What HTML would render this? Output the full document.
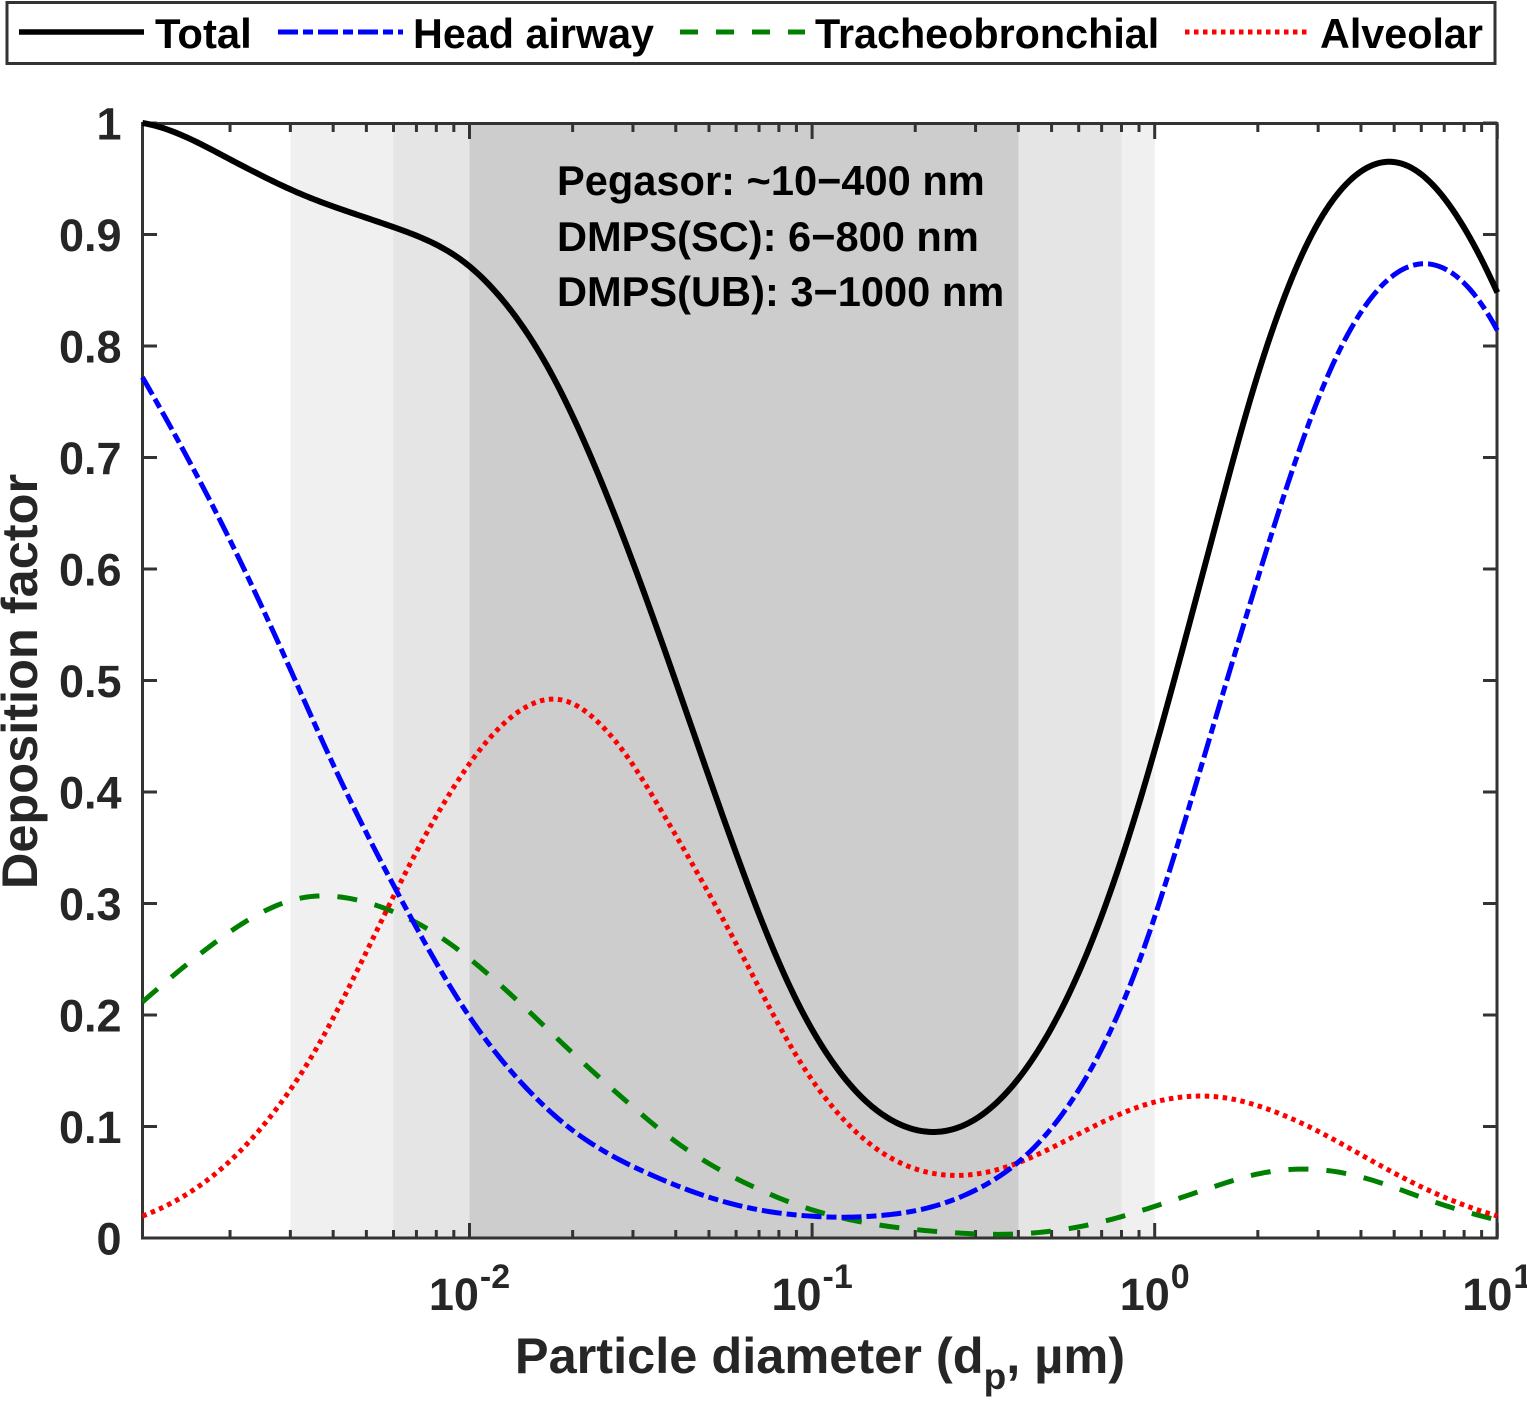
<!DOCTYPE html>
<html>
<head>
<meta charset="utf-8">
<title>Deposition factor chart</title>
<style>
html,body{margin:0;padding:0;background:#fff;width:1527px;height:1405px;overflow:hidden}
svg{display:block;font-family:"Liberation Sans",sans-serif;font-weight:bold}
</style>
</head>
<body>
<svg id="chart" width="1527" height="1405" viewBox="0 0 1527 1405" xmlns="http://www.w3.org/2000/svg">
  <g id="bands"></g>
  <rect x="142.5" y="123.5" width="1354.5" height="1114.5" fill="none" stroke="#333" stroke-width="3"/>
  <g id="ticks"></g>
  <g id="labels" fill="#262626" font-size="45"></g>
  <g id="series" fill="none"></g>

  <g font-size="41.6" fill="#000">
    <text x="557" y="195">Pegasor: ~10−400 nm</text>
    <text x="557" y="251">DMPS(SC): 6−800 nm</text>
    <text x="557" y="306">DMPS(UB): 3−1000 nm</text>
  </g>

  <text x="820" y="1373" text-anchor="middle" font-size="50.5" fill="#262626">Particle diameter (d<tspan font-size="37" dy="16">p</tspan><tspan dy="-16">, µm)</tspan></text>
  <text transform="translate(37,681.5) rotate(-90)" text-anchor="middle" font-size="50.5" fill="#262626">Deposition factor</text>

  <g>
    <rect x="7" y="2.5" width="1488" height="61" fill="#fff" stroke="#333" stroke-width="3"/>
    <line x1="19" x2="144" y1="32" y2="32" stroke="#000" stroke-width="5.5"/>
    <text x="155" y="48" font-size="41.8">Total</text>
    <line x1="278" x2="403" y1="32" y2="32" stroke="#0000ff" stroke-width="5" stroke-dasharray="20 5 10 5"/>
    <text x="413" y="48" font-size="41.3">Head airway</text>
    <line x1="680" x2="805" y1="32" y2="32" stroke="#008000" stroke-width="5" stroke-dasharray="18 18"/>
    <text x="815" y="48" font-size="41.3">Tracheobronchial</text>
    <line x1="1185" x2="1310" y1="32" y2="32" stroke="#ff0000" stroke-width="5" stroke-dasharray="4.5 4.5"/>
    <text x="1320" y="48" font-size="41.3">Alveolar</text>
  </g>
</svg>

<script>
const diameters = [0.00111,0.0015,0.002,0.003,0.004,0.006,0.008,0.01,0.015,0.0175,0.02,0.03,0.04,0.06,0.08,0.1,0.15,0.2,0.25,0.3,0.4,0.6,0.8,1,1.5,2,3,4,5,6,8,10];
const totalValues = [1,0.987,0.967,0.94,0.925,0.906,0.891,0.872,0.808,0.774,0.737,0.606,0.499,0.346,0.245,0.187,0.117,0.0987,0.095,0.1076,0.1426,0.238,0.337,0.4386,0.635,0.778,0.911,0.956,0.966,0.954,0.906,0.848];
const headValues = [0.772,0.7,0.626,0.511,0.423,0.317,0.2475,0.197,0.132,0.111,0.096,0.0646,0.0475,0.0296,0.0224,0.0197,0.0197,0.025,0.0314,0.0448,0.0673,0.1336,0.2045,0.288,0.466,0.59,0.754,0.831,0.864,0.8735,0.8565,0.814];
const tracheoValues = [0.2117,0.2457,0.2744,0.3035,0.3065,0.292,0.2735,0.25,0.2027,0.183,0.165,0.1184,0.0852,0.0538,0.0359,0.0251,0.0126,0.0076,0.0054,0.0036,0.0036,0.0099,0.0188,0.0287,0.0457,0.0583,0.0614,0.0552,0.0457,0.0359,0.0242,0.0161];
const alveolarValues = [0.0197,0.0395,0.069,0.1327,0.1955,0.3076,0.3776,0.426,0.478,0.484,0.4807,0.425,0.3587,0.2664,0.1892,0.1408,0.0825,0.0619,0.0565,0.057,0.0673,0.0933,0.1121,0.122,0.1274,0.1184,0.096,0.0744,0.0583,0.0457,0.0296,0.0197];
const yTickValues = [0,0.1,0.2,0.3,0.4,0.5,0.6,0.7,0.8,0.9,1];
const yTickLabels = ["0","0.1","0.2","0.3","0.4","0.5","0.6","0.7","0.8","0.9","1"];
const xMajorExponents = [-2,-1,0,1];
const xMinorDecades = [-3,-2,-1,0];
const minorMultipliers = [2,3,4,5,6,7,8,9];
const rangeStarts = [0.003,0.006,0.01];
const rangeEnds = [1,0.8,0.4];
const rangeFills = ["#f0f0f0","#e5e5e5","#cdcdcd"];

const SVG_NS = "http://www.w3.org/2000/svg";
const xAxisStart = 0.00111;
function xScale(d){ return 469.5 + 342.6 * (Math.log10(d) + 2); }
function yScale(v){ return 1238 - 1115 * v; }

function make(tag, attrs, parent){
  const el = document.createElementNS(SVG_NS, tag);
  for (const k in attrs) el.setAttribute(k, attrs[k]);
  parent.appendChild(el);
  return el;
}

const bandsGroup = document.getElementById("bands");
rangeStarts.forEach(function(start, i){
  const x0 = xScale(start), x1 = xScale(rangeEnds[i]);
  const band = make("rect", {x:x0, y:124, width:x1-x0, height:1113, fill:rangeFills[i]}, bandsGroup);
  
  
});

const ticksGroup = document.getElementById("ticks");
function tick(x1, y1, x2, y2){
  const t = make("line", {x1:x1, y1:y1, x2:x2, y2:y2, stroke:"#333", "stroke-width":3}, ticksGroup);
  
  
}
yTickValues.forEach(function(v){
  const y = yScale(v);
  tick(143, y, 157, y);
  tick(1497, y, 1483, y);
});
xMajorExponents.forEach(function(e){
  const x = xScale(Math.pow(10, e));
  tick(x, 1238, x, 1223);
  tick(x, 124, x, 139);
});
xMinorDecades.forEach(function(e){
  minorMultipliers.forEach(function(m){
    const d = m * Math.pow(10, e);
    if (d <= xAxisStart) return;
    const x = xScale(d);
    tick(x, 1238, x, 1230);
    tick(x, 124, x, 132);
  });
});

const labelsGroup = document.getElementById("labels");
yTickValues.forEach(function(v, i){
  const t = make("text", {x:121.5, y:yScale(v)+16.5, "text-anchor":"end"}, labelsGroup);
  
  
  t.textContent = yTickLabels[i];
});
xMajorExponents.forEach(function(e){
  const x = xScale(Math.pow(10, e));
  const t = make("text", {x:x, y:1310, "text-anchor":"middle"}, labelsGroup);
  
  
  t.appendChild(document.createTextNode("10"));
  const sup = make("tspan", {"font-size":"34", dy:"-22", dx:"1"}, t);
  sup.textContent = String(e);
});

/* Read values carry small reading noise: fit a local cubic in log-diameter to draw a smooth curve. */
function localCubic(xs, ys, x, sigma){
  const A = [[0,0,0,0,0],[0,0,0,0,0],[0,0,0,0,0],[0,0,0,0,0]];
  xs.forEach(function(xi, i){
    const u = (xi - x) / sigma;
    const w = Math.exp(-0.5 * u * u);
    const b = [1, u, u*u, u*u*u];
    for (let r = 0; r < 4; r++){
      for (let c = 0; c < 4; c++) A[r][c] += w * b[r] * b[c];
      A[r][4] += w * b[r] * ys[i];
    }
  });
  for (let p = 0; p < 4; p++){
    let best = p;
    for (let r = p + 1; r < 4; r++) if (Math.abs(A[r][p]) > Math.abs(A[best][p])) best = r;
    const tmp = A[p]; A[p] = A[best]; A[best] = tmp;
    for (let r = p + 1; r < 4; r++){
      const f = A[r][p] / A[p][p];
      for (let c = p; c < 5; c++) A[r][c] -= f * A[p][c];
    }
  }
  const beta = [0,0,0,0];
  for (let r = 3; r >= 0; r--){
    let s = A[r][4];
    for (let c = r + 1; c < 4; c++) s -= A[r][c] * beta[c];
    beta[r] = s / A[r][r];
  }
  return beta[0];
}

function smoothPath(xs, ys){
  const logs = xs.map(Math.log10);
  const a = logs[0], b = logs[logs.length - 1];
  const n = Math.round((b - a) / 0.01);
  let path = "";
  for (let i = 0; i <= n; i++){
    const l = a + (b - a) * i / n;
    const v = localCubic(logs, ys, l, 0.13);
    path += (i ? "L" : "M") + xScale(Math.pow(10, l)).toFixed(2) + " " + yScale(v).toFixed(2);
  }
  return path;
}

const seriesGroup = document.getElementById("series");
const lineTotal = make("path", {d:smoothPath(diameters,totalValues), stroke:"#000", "stroke-width":6}, seriesGroup);


const lineTracheo = make("path", {d:smoothPath(diameters,tracheoValues), stroke:"#008000", "stroke-width":5, "stroke-dasharray":"20 18"}, seriesGroup);


const lineAlveolar = make("path", {d:smoothPath(diameters,alveolarValues), stroke:"#ff0000", "stroke-width":5, "stroke-dasharray":"4.5 4.5"}, seriesGroup);


const lineHead = make("path", {d:smoothPath(diameters,headValues), stroke:"#0000ff", "stroke-width":5, "stroke-dasharray":"20 5 10 5"}, seriesGroup);


</script>
</body>
</html>
